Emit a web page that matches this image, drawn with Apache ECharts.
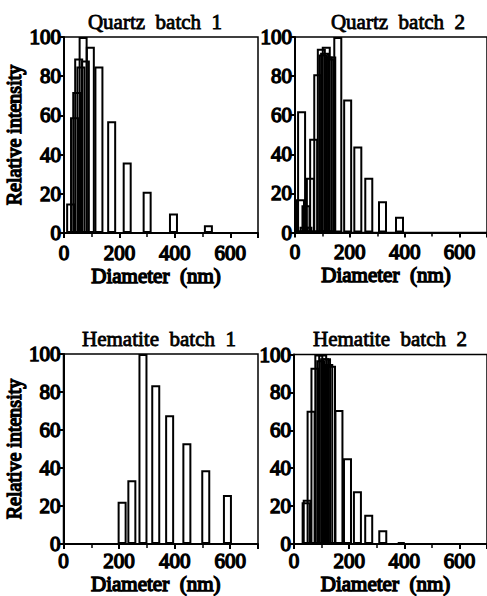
<!DOCTYPE html>
<html><head><meta charset="utf-8">
<script src="https://cdn.jsdelivr.net/npm/echarts@6/dist/echarts.min.js"></script>
<style>html,body{margin:0;padding:0;background:#fff}#c{width:487px;height:596px}</style>
</head><body><div id="c"></div>
<script>
// ---- data (diameter in nm, relative intensity in %) ----
const panelTitles = ['Quartz  batch  1', 'Quartz  batch  2', 'Hematite  batch  1', 'Hematite  batch  2'];
const q1Diam = [24, 38, 46, 53, 61, 69, 77, 95, 126, 172, 228, 300, 395, 521];
const q1Int  = [15, 59, 72, 89, 85, 100, 88, 95, 85, 57, 36, 21, 10, 4];
const q2Diam = [20, 24, 33, 40, 47, 56, 68, 83, 96, 102, 108, 114, 121, 127, 134, 156, 192, 229, 269, 319, 381];
const q2Int  = [17, 62, 3, 14, 3, 28, 48, 81, 94, 91, 92, 95, 90, 89, 90, 100, 68, 44, 28, 16, 8];
const h1Diam = [211, 246, 286, 332, 382, 444, 512, 590];
const h1Int  = [22.3, 33.5, 100, 83.5, 67.8, 53, 38.8, 25.8];
const h2Diam = [44, 48, 62, 76, 90, 97, 104, 111, 118, 126, 136, 163, 194, 230, 271, 322, 389];
const h2Int  = [22, 23.3, 70.3, 93, 100, 97, 100, 98, 98, 95, 94, 70.7, 45.3, 27.9, 15.5, 7.2, 1];
const xTicks = [0, 200, 400, 600];
const yTicks = [0, 20, 40, 60, 80, 100];
const xName = 'Diameter  (nm)';
const yName = 'Relative intensity';

const diams = [q1Diam, q2Diam, h1Diam, h2Diam];
const ints = [q1Int, q2Int, h1Int, h2Int];

const FONT = 'Liberation Serif';
// faux-bold: regular serif face with a thin outline of the same colour
const boldText = {color: '#000', fontFamily: FONT, fontWeight: 'normal', fontSize: 21, textBorderColor: '#000', textBorderWidth: 1.4};
const grids = [
  {left: 64, top: 37, width: 194, height: 196},
  {left: 295, top: 37, width: 196, height: 195.5},
  {left: 63.5, top: 354, width: 194.5, height: 194.3},
  {left: 294, top: 354.5, width: 196, height: 193.8}
];
const titlePos = [[155, 22], [398, 22], [159, 339], [390, 339]];
const labelMargin = [9, 9, 6, 6];

const option = {
  backgroundColor: '#fff',
  animation: false,
  grid: grids.map(g => Object.assign({show: true, borderColor: '#000', borderWidth: 1.5, backgroundColor: 'transparent'}, g)),
  graphic: panelTitles.map((t, i) => ({
    type: 'text', x: titlePos[i][0], y: titlePos[i][1],
    style: {text: t, fill: '#000', stroke: '#000', lineWidth: 0.8, fontFamily: FONT, fontSize: 21, fontWeight: 'normal', align: 'center', verticalAlign: 'middle'}
  })),
  xAxis: grids.map((g, i) => ({
    gridIndex: i, type: 'value', min: xTicks[0], max: 700, interval: xTicks[1] - xTicks[0],
    axisLine: {show: true, onZero: false, lineStyle: {color: '#000', width: 2}},
    axisTick: {show: true, length: 5, lineStyle: {color: '#000', width: 2}},
    minorTick: {show: true, splitNumber: 2, length: 4, lineStyle: {color: '#000', width: 1.5}},
    splitLine: {show: false},
    axisLabel: Object.assign({margin: labelMargin[i], showMaxLabel: false,
      formatter: v => xTicks.indexOf(v) >= 0 ? String(v) : ''}, boldText),
    name: xName, nameLocation: 'middle', nameGap: i < 2 ? 29 : 27,
    nameTextStyle: Object.assign({padding: [0, 10, 0, 0]}, boldText)
  })),
  yAxis: grids.map((g, i) => ({
    gridIndex: i, type: 'value', min: yTicks[0], max: yTicks[yTicks.length - 1], interval: yTicks[1] - yTicks[0],
    axisLine: {show: true, lineStyle: {color: '#000', width: 2}},
    axisTick: {show: true, length: 5, lineStyle: {color: '#000', width: 2}},
    splitLine: {show: false},
    axisLabel: Object.assign({margin: 3}, boldText),
    name: (i % 2 === 0) ? yName : '', nameLocation: 'middle', nameGap: 31, nameRotate: 90,
    nameTextStyle: Object.assign({}, boldText, {fontSize: 20})
  })),
  series: diams.map((d, i) => ({
    type: 'bar', xAxisIndex: i, yAxisIndex: i,
    barWidth: 9,
    data: d.map((x, k) => [x, ints[i][k]]),
    itemStyle: {color: 'rgba(255,255,255,0)', borderColor: '#000', borderWidth: 2},
    clip: true
  }))
};

const chart = echarts.init(document.getElementById('c'), null, {renderer: 'svg'});
chart.setOption(option);
</script>
</body></html>
